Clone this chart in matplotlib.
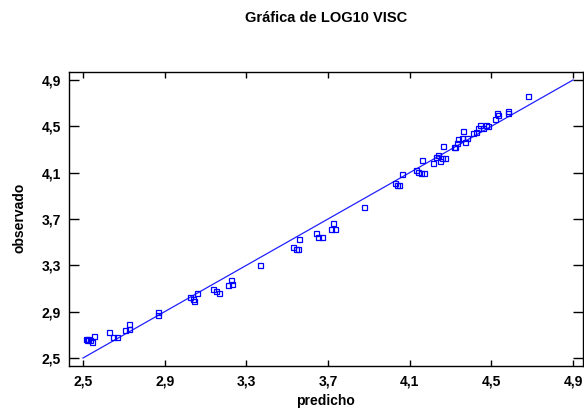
import matplotlib
matplotlib.use('Agg')
import matplotlib.pyplot as plt
from matplotlib.ticker import FixedLocator

plt.rcParams['font.family'] = ['Liberation Sans Narrow', 'Liberation Sans', 'DejaVu Sans']

# predicted vs observed (log10 viscosity)
predicho = [2.515, 2.525, 2.534, 2.544, 2.554, 2.52, 2.627, 2.647, 2.666, 2.706,
            2.725, 2.725, 2.867, 2.867, 3.024, 3.039, 3.044, 3.058, 3.137, 3.151,
            3.166, 3.21, 3.225, 3.23, 3.367, 3.528, 3.543, 3.553, 3.558, 3.641,
            3.651, 3.67, 3.715, 3.724, 3.734, 3.876, 4.028, 4.038, 4.048, 4.062,
            4.131, 4.141, 4.155, 4.17, 4.16, 4.214, 4.229, 4.238, 4.248, 4.258,
            4.273, 4.263, 4.317, 4.322, 4.332, 4.336, 4.356, 4.361, 4.371, 4.381,
            4.41, 4.425, 4.434, 4.444, 4.459, 4.473, 4.483, 4.518, 4.527, 4.532,
            4.581, 4.581, 4.679]
observado = [2.664, 2.664, 2.655, 2.638, 2.69, 2.655, 2.725, 2.681, 2.681, 2.742,
             2.794, 2.75, 2.897, 2.871, 3.027, 3.009, 2.992, 3.061, 3.096, 3.079,
             3.061, 3.13, 3.174, 3.139, 3.303, 3.459, 3.441, 3.441, 3.528, 3.579,
             3.545, 3.545, 3.614, 3.666, 3.614, 3.804, 4.011, 3.994, 3.994, 4.089,
             4.124, 4.106, 4.098, 4.098, 4.21, 4.184, 4.236, 4.253, 4.201, 4.227,
             4.227, 4.331, 4.322, 4.322, 4.357, 4.391, 4.4, 4.46, 4.365, 4.4,
             4.443, 4.452, 4.486, 4.512, 4.486, 4.512, 4.503, 4.564, 4.616, 4.598,
             4.633, 4.616, 4.763]
linea = [2.5, 4.9]
ticks = [2.5, 2.9, 3.3, 3.7, 4.1, 4.5, 4.9]
tick_labels = ['2,5', '2,9', '3,3', '3,7', '4,1', '4,5', '4,9']

fig = plt.figure(figsize=(5.84, 4.09), dpi=100)
ax = fig.add_axes([69/584, 43/409, 514/584, 294/409])

ax.plot(linea, linea, color='#2020ff', lw=0.9)
ax.plot(predicho, observado, 's', mfc='none', mec='blue', ms=3.6, mew=0.9)

ax.set_xlim(2.4314, 4.949)
ax.set_ylim(2.431, 4.969)
ax.xaxis.set_major_locator(FixedLocator(ticks))
ax.yaxis.set_major_locator(FixedLocator(ticks))
ax.set_xticklabels(tick_labels)
ax.set_yticklabels(tick_labels)
ax.tick_params(axis='x', direction='in', length=4.5, width=1, top=True,
               labelsize=10, pad=6)
ax.tick_params(axis='y', direction='in', length=7, width=1, right=True,
               labelsize=10, pad=6)
ax.tick_params(axis='y', which='major', right=True)
for lab in ax.get_xticklabels() + ax.get_yticklabels():
    lab.set_fontweight('bold')
for s in ax.spines.values():
    s.set_linewidth(1)

fig.text(0.558, 1 - 18/409, 'Gráfica de LOG10 VISC', ha='center', va='center',
         fontsize=10.5, fontweight='bold')
fig.text(0.557, 1 - 401/409, 'predicho', ha='center', va='center',
         fontsize=10, fontweight='bold')
fig.text(20/584, 1 - 218/409, 'observado', ha='center', va='center',
         rotation=90, fontsize=10, fontweight='bold')

fig.savefig('out.png', dpi=100)
